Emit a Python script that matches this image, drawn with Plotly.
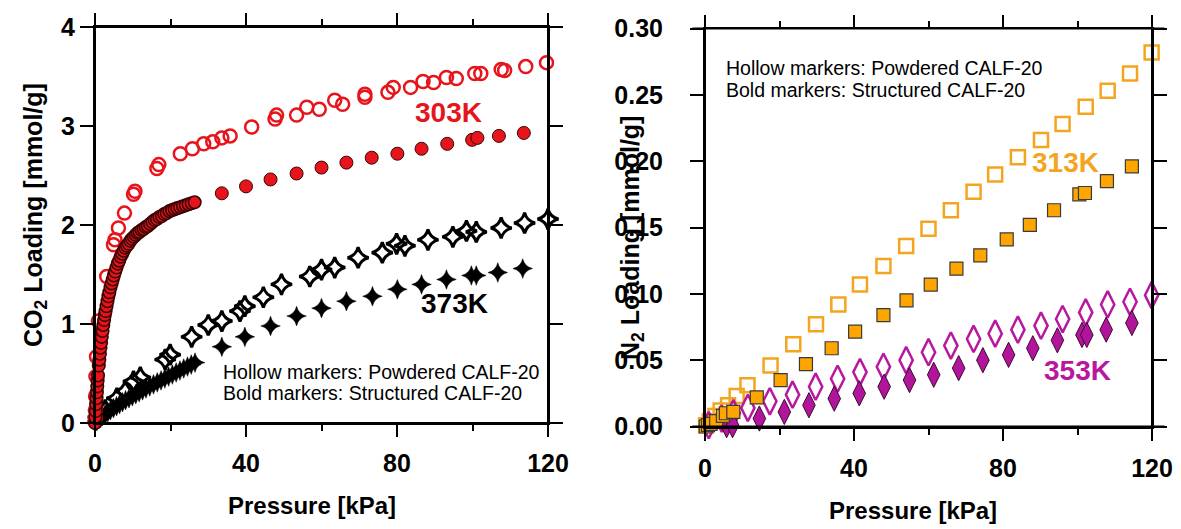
import plotly.graph_objects as go

# ---------------- DATA: CO2 (left panel) ----------------
# 303 K, powdered (hollow circles)
co2_303_pow_p = [0.05, 0.1, 0.15, 0.25, 0.4, 0.9, 3.1, 4.9, 5.3, 6.2, 7.8, 10.2, 10.6,
                 16.4, 16.9, 22.6, 25.8, 28.8, 31.2, 33.6, 35.8, 41.5, 47.7, 48.1, 53.4,
                 56.1, 59.4, 63.5, 65.6, 71.5, 71.5, 77.6, 79.0, 83.6, 86.9, 89.7, 93.1,
                 95.7, 100.6, 102.2, 107.6, 108.5, 114.1, 119.6]
co2_303_pow_q = [0.05, 0.13, 0.27, 0.47, 0.67, 1.03, 1.48, 1.80, 1.85, 1.97, 2.12, 2.31, 2.34,
                 2.57, 2.61, 2.72, 2.77, 2.82, 2.84, 2.88, 2.90, 2.99, 3.07, 3.11, 3.11,
                 3.19, 3.17, 3.26, 3.22, 3.32, 3.29, 3.34, 3.39, 3.39, 3.45, 3.44, 3.49,
                 3.48, 3.53, 3.53, 3.57, 3.56, 3.60, 3.64]

# 303 K, structured (bold circles) - dense low-pressure branch
co2_303_str_lp_p = [0.0, 0.1, 0.2, 0.3, 0.4, 0.5, 0.6, 0.7, 0.8, 1.0, 1.15, 1.3, 1.45, 1.6,
                    1.8, 2.0, 2.2, 2.4, 2.6, 2.8, 3.05, 3.3, 3.55, 3.8, 4.1, 4.4, 4.7, 5.0,
                    5.35, 5.7, 6.05, 6.4, 6.8, 7.2, 7.6, 8.0, 8.45, 8.9, 9.35, 9.8, 10.3,
                    10.8, 11.3, 11.8, 12.35, 12.9, 13.45, 14.0, 14.6, 15.2, 15.8, 16.4,
                    17.05, 17.7, 18.35, 19.0, 19.7, 20.4, 21.1, 21.8, 22.55, 23.3, 24.05,
                    24.8, 25.6, 26.4]
co2_303_str_lp_q = [0.00, 0.06, 0.12, 0.19, 0.25, 0.31, 0.37, 0.43, 0.48, 0.58, 0.64, 0.70,
                    0.76, 0.81, 0.87, 0.93, 0.99, 1.04, 1.09, 1.13, 1.18, 1.23, 1.28, 1.32,
                    1.37, 1.41, 1.45, 1.49, 1.53, 1.57, 1.61, 1.64, 1.68, 1.71, 1.74, 1.77,
                    1.79, 1.81, 1.84, 1.86, 1.88, 1.90, 1.92, 1.93, 1.95, 1.96, 1.98, 1.99,
                    2.01, 2.03, 2.05, 2.06, 2.08, 2.09, 2.11, 2.12, 2.14, 2.15, 2.16, 2.17,
                    2.18, 2.19, 2.20, 2.21, 2.22, 2.23]
# 303 K, structured (bold circles) - high-pressure points
co2_303_str_p = [33.6, 40.0, 46.5, 53.4, 60.0, 66.6, 73.3, 80.1, 86.5, 93.3, 99.9, 101.3,
                 107.0, 113.6]
co2_303_str_q = [2.32, 2.39, 2.46, 2.52, 2.58, 2.63, 2.68, 2.72, 2.77, 2.82, 2.86, 2.88,
                 2.90, 2.93]

# 373 K, powdered (hollow stars)
co2_373_pow_p = [0.9, 2.7, 5.8, 8.0, 10.2, 12.0, 18.6, 19.9, 25.6, 30.0, 33.6, 38.4, 39.7,
                 44.6, 49.4, 56.9, 60.0, 63.5, 69.7, 76.1, 79.9, 82.1, 88.2, 94.8, 98.4,
                 101.0, 107.6, 113.8, 120.0]
co2_373_pow_q = [0.06, 0.13, 0.25, 0.32, 0.42, 0.46, 0.64, 0.69, 0.87, 0.99, 1.03, 1.13, 1.18,
                 1.27, 1.40, 1.48, 1.55, 1.57, 1.67, 1.72, 1.81, 1.79, 1.85, 1.88, 1.94,
                 1.93, 1.97, 2.02, 2.06]

# 373 K, structured (bold stars) - dense low-pressure branch
co2_373_str_lp_p = [0.0, 0.5, 1.0, 1.5, 2.0, 2.7, 3.4, 4.1, 4.9, 5.7, 6.5, 7.3, 8.1, 9.0,
                    9.9, 10.8, 11.7, 12.6, 13.5, 14.5, 15.5, 16.5, 17.5, 18.5, 19.5, 20.5,
                    21.5, 22.5, 23.5, 24.5, 25.5, 26.5]
co2_373_str_lp_q = [0.00, 0.02, 0.04, 0.05, 0.07, 0.09, 0.11, 0.13, 0.15, 0.17, 0.19, 0.21,
                    0.23, 0.25, 0.27, 0.29, 0.31, 0.33, 0.35, 0.37, 0.39, 0.41, 0.43, 0.45,
                    0.47, 0.49, 0.51, 0.53, 0.55, 0.57, 0.59, 0.61]
# 373 K, structured (bold stars) - high-pressure points
co2_373_str_p = [33.6, 39.7, 46.5, 53.4, 60.0, 66.6, 73.5, 80.1, 86.5, 93.1, 99.7, 101.0,
                 106.7, 113.3]
co2_373_str_q = [0.77, 0.87, 0.98, 1.08, 1.16, 1.23, 1.28, 1.35, 1.40, 1.45, 1.49, 1.49,
                 1.52, 1.56]

# ---------------- DATA: N2 (right panel) ----------------
n2_313_pow_p = [0.3, 1.3, 2.8, 4.2, 6.2, 8.5, 11.4, 17.6, 23.7, 29.8, 35.8, 41.6, 47.9,
                54.0, 60.0, 66.0, 72.1, 77.9, 84.0, 90.2, 96.0, 102.2, 108.1, 114.1, 119.9]
n2_313_pow_q = [0.001, 0.004, 0.008, 0.012, 0.016, 0.023, 0.031, 0.046, 0.062, 0.077, 0.092,
                0.107, 0.121, 0.136, 0.149, 0.163, 0.177, 0.190, 0.203, 0.216, 0.228,
                0.241, 0.253, 0.266, 0.282]
n2_313_str_p = [0.2, 0.8, 1.5, 3.0, 4.8, 5.6, 7.6, 13.9, 20.3, 27.1, 34.0, 40.3, 47.9, 54.1,
                60.6, 67.5, 73.9, 81.0, 87.2, 93.7, 100.5, 102.0, 107.9, 114.6]
n2_313_str_q = [0.000, 0.001, 0.002, 0.004, 0.008, 0.010, 0.011, 0.022, 0.035, 0.047, 0.059,
                0.0715, 0.084, 0.095, 0.107, 0.119, 0.129, 0.141, 0.152, 0.163, 0.175,
                0.176, 0.185, 0.196]
n2_353_pow_p = [1.0, 4.5, 7.6, 11.5, 17.4, 23.5, 29.7, 35.6, 41.6, 47.9, 54.0, 60.0, 66.0,
                72.1, 77.9, 84.0, 90.2, 96.0, 102.2, 108.1, 114.1, 119.9]
n2_353_pow_q = [0.001, 0.006, 0.010, 0.014, 0.019, 0.024, 0.030, 0.036, 0.041, 0.045, 0.050,
                0.056, 0.061, 0.066, 0.070, 0.073, 0.076, 0.081, 0.086, 0.092, 0.094, 0.099]
n2_353_str_p = [1.3, 5.8, 7.4, 14.6, 21.3, 27.9, 34.7, 41.4, 48.1, 54.9, 61.4, 68.1, 74.6,
                81.5, 88.0, 94.6, 101.2, 102.5, 107.7, 114.6]
n2_353_str_q = [-0.003, 0.001, 0.001, 0.006, 0.011, 0.016, 0.021, 0.025, 0.030, 0.035,
                0.039, 0.044, 0.050, 0.054, 0.059, 0.065, 0.069, 0.069, 0.073, 0.078]

note_lines = ["Hollow markers: Powdered CALF-20", "Bold markers: Structured CALF-20"]
x_title = "Pressure [kPa]"
y_title_left = "CO<sub>2</sub> Loading [mmol/g]"
y_title_right = "N<sub>2</sub> Loading [mmol/g]"

# ---------------- STYLE ----------------
RED = "#e8141c"
ORANGE_O = "#f3a51f"
ORANGE_F = "#ffa500"
MAG_O = "#b8189f"
MAG_F = "#b3149c"
FONT = "Liberation Sans, Arial, sans-serif"
# the page body has an 8 px margin: the figure is shrunk and coordinates shifted
OFF = 8
W, H = 1181 - OFF, 529 - OFF

def px(x):
    return (x - OFF) / W

def py(y):
    return 1 - (y - OFF) / H

fig = go.Figure()

def add(xs, ys, symbol, size, color, lw, lcolor=None, xa="x", ya="y"):
    fig.add_trace(go.Scatter(
        x=xs, y=ys, mode="markers", xaxis=xa, yaxis=ya, cliponaxis=False,
        showlegend=False,
        marker=dict(symbol=symbol, size=size, color=color,
                    line=dict(width=lw, color=lcolor if lcolor else color))))

# left panel
add(co2_373_pow_p, co2_373_pow_q, "star-diamond-open", 15, "black", 3)
add(co2_373_str_lp_p, co2_373_str_lp_q, "star-diamond", 14, "black", 0.5)
add(co2_373_str_p, co2_373_str_q, "star-diamond", 14, "black", 0.5)
add(co2_303_pow_p, co2_303_pow_q, "circle-open", 13, RED, 2.5)
add(co2_303_str_lp_p, co2_303_str_lp_q, "circle", 12.5, RED, 1.6, "#3a0505")
add(co2_303_str_p, co2_303_str_q, "circle", 13, RED, 1, "#3a0505")

# right panel
add(n2_313_pow_p, n2_313_pow_q, "square-open", 14, ORANGE_O, 2.5, xa="x2", ya="y2")
add(n2_353_pow_p, n2_353_pow_q, "diamond-tall-open", 19, MAG_O, 2.5, xa="x2", ya="y2")
add(n2_353_str_p, n2_353_str_q, "diamond-tall", 18, MAG_F, 1, "#3a0a30", xa="x2", ya="y2")
add(n2_313_str_p, n2_313_str_q, "square", 13, ORANGE_F, 1.2, "#3a3a3a", xa="x2", ya="y2")

tickfont = dict(family=FONT, size=25, color="black", weight="bold")

def xax(domain, anchor, standoff):
    return dict(domain=domain, anchor=anchor, range=[0, 120], tickmode="array",
                tickvals=[0, 40, 80, 120], ticks="outside", ticklen=12, tickwidth=2,
                tickcolor="black", showline=True, linewidth=2, linecolor="black",
                mirror="allticks", showgrid=False, zeroline=False, tickfont=tickfont,
                ticklabelstandoff=standoff,
                minor=dict(tickvals=[20, 60, 100], ticks="outside", ticklen=6,
                           tickwidth=2, tickcolor="black", showgrid=False),
                automargin=False, fixedrange=True)

fig.update_layout(
    width=W, height=H, margin=dict(l=0, r=0, t=0, b=0),
    paper_bgcolor="white", plot_bgcolor="white",
    xaxis=xax([px(95), px(548)], "y", 5),
    yaxis=dict(domain=[py(423), py(27)], anchor="x", range=[0, 4], tickmode="array",
               tickvals=[0, 1, 2, 3, 4], ticks="outside", ticklen=13, tickwidth=2,
               tickcolor="black", showline=True, linewidth=2, linecolor="black",
               mirror="ticks", showgrid=False, zeroline=False, tickfont=tickfont,
               automargin=False, ticklabelstandoff=0),
    xaxis2=xax([px(705), px(1152)], "y2", 6),
    yaxis2=dict(domain=[py(426.5), py(28.5)], anchor="x2", range=[0, 0.30],
                tickmode="array", tickvals=[0, 0.05, 0.10, 0.15, 0.20, 0.25, 0.30],
                ticktext=["0.00", "0.05", "0.10", "0.15", "0.20", "0.25", "0.30"],
                ticks="outside", ticklen=13, tickwidth=2, tickcolor="black",
                showline=True, linewidth=2, linecolor="black", mirror="ticks",
                showgrid=False, zeroline=False, tickfont=tickfont, automargin=False,
                ticklabelstandoff=22),
    font=dict(family=FONT, color="black"),
)

# extended frame lines (lines cross at the corners)
for xr, yr in (("x domain", "y domain"), ("x2 domain", "y2 domain")):
    ex, ey = 0.028, 0.03
    for (x0, y0, x1, y1) in ((-ex, 0, 1 + ex, 0), (-ex, 1, 1 + ex, 1),
                             (0, -ey, 0, 1 + ey), (1, -ey, 1, 1 + ey)):
        fig.add_shape(type="line", xref=xr, yref=yr, x0=x0, y0=y0, x1=x1, y1=y1,
                      line=dict(color="black", width=2))

ann = []
def text(x, y, s, size, color="black", bold=False, xanchor="center", xref="x", yref="y",
         textangle=0):
    ann.append(dict(x=x, y=y, xref=xref, yref=yref, text=s, showarrow=False,
                    xanchor=xanchor, yanchor="middle", textangle=textangle,
                    font=dict(family=FONT, size=size, color=color,
                              weight="bold" if bold else "normal")))

# temperature labels
text(93.7, 3.14, "303K", 28, RED, True)
text(95.3, 1.205, "373K", 28, "black", True)
text(96.9, 0.1987, "313K", 28, ORANGE_O, True, xref="x2", yref="y2")
text(100.1, 0.0419, "353K", 28, MAG_O, True, xref="x2", yref="y2")

# notes
text(px(221), py(372), note_lines[0], 19.5, xanchor="left", xref="paper", yref="paper")
text(px(221), py(393), note_lines[1], 19.5, xanchor="left", xref="paper", yref="paper")
text(px(724), py(68), note_lines[0], 19.5, xanchor="left", xref="paper", yref="paper")
text(px(724), py(90), note_lines[1], 19.5, xanchor="left", xref="paper", yref="paper")

# axis titles
text(px(312), py(505), x_title, 24, bold=True, xref="paper", yref="paper")
text(px(913), py(510), x_title, 24, bold=True, xref="paper", yref="paper")
text(px(35), py(215), y_title_left, 25, bold=True, xref="paper", yref="paper", textangle=-90)
text(px(632), py(238), y_title_right, 25, bold=True, xref="paper", yref="paper", textangle=-90)

fig.update_layout(annotations=ann)
fig.write_html("out.html")
